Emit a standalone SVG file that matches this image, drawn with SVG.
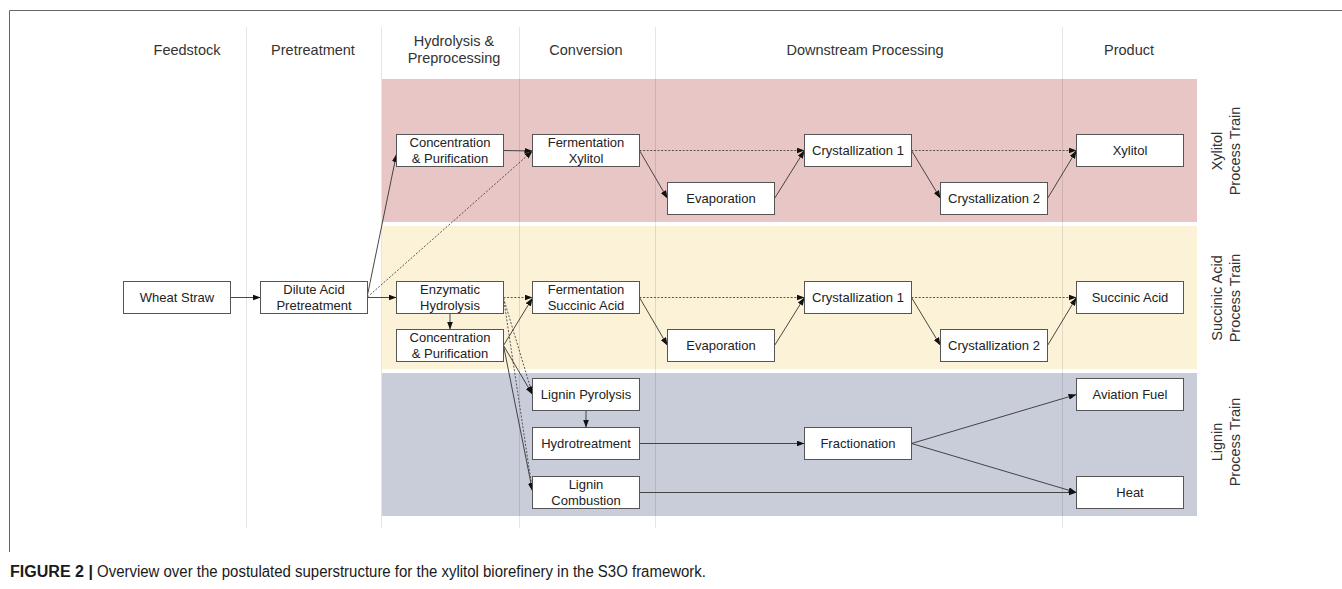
<svg xmlns="http://www.w3.org/2000/svg" width="1342" height="589" viewBox="0 0 1342 589">
  <defs>
    <marker id="arr" viewBox="0 0 8 6" refX="8" refY="3" markerWidth="8" markerHeight="6" markerUnits="userSpaceOnUse" orient="auto">
      <path d="M0,0 L8,3 L0,6 z" fill="#111"/>
    </marker>
    <style>
      .hdr { font-family: "Liberation Sans", Arial, sans-serif; font-size: 14.5px; fill: #333; text-anchor: middle; }
      .side { font-family: "Liberation Sans", Arial, sans-serif; font-size: 14.5px; fill: #333; text-anchor: middle; }
      .box { fill: #fff; stroke: #555; stroke-width: 1; }
      .lbl { font-family: "Liberation Sans", Arial, sans-serif; font-size: 13px; fill: #222; text-anchor: middle; }
      .sol { fill: none; stroke: #333; stroke-width: 0.9; marker-end: url(#arr); }
      .dot { fill: none; stroke: #444; stroke-width: 0.9; stroke-dasharray: 2 1.6; marker-end: url(#arr); }
      .col { stroke: #000; stroke-opacity: 0.1; stroke-width: 1; }
      .cap { font-family: "Liberation Sans", Arial, sans-serif; font-size: 16px; fill: #1a1a1a; }
    </style>
  </defs>

  <rect width="1342" height="589" fill="#fff"/>

  <!-- outer frame -->
  <path d="M9.5,552 L9.5,10.5 L1342,10.5" fill="none" stroke="#666" stroke-width="1"/>

  <!-- process train bands -->
  <g id="bands">
    <rect x="382" y="79" width="815" height="143" fill="#E8C6C6"/>
    <rect x="382" y="226" width="815" height="143" fill="#FBF2D8"/>
    <rect x="382" y="373" width="815" height="143" fill="#C9CDD9"/>
  </g>

  <!-- column dividers -->
  <g id="columns">
    <line class="col" x1="246.5" y1="27" x2="246.5" y2="528"/>
    <line class="col" x1="381.5" y1="27" x2="381.5" y2="528"/>
    <line class="col" x1="519.5" y1="27" x2="519.5" y2="528"/>
    <line class="col" x1="655.5" y1="27" x2="655.5" y2="528"/>
    <line class="col" x1="1062.5" y1="27" x2="1062.5" y2="528"/>
  </g>

  <!-- column headers -->
  <g id="headers">
    <text class="hdr" x="187" y="55">Feedstock</text>
    <text class="hdr" x="313" y="55">Pretreatment</text>
    <text class="hdr" x="454" y="46">Hydrolysis &amp;</text>
    <text class="hdr" x="454" y="63">Preprocessing</text>
    <text class="hdr" x="586" y="55">Conversion</text>
    <text class="hdr" x="865" y="55">Downstream Processing</text>
    <text class="hdr" x="1129" y="55">Product</text>
  </g>

  <!-- train labels -->
  <g id="train-labels">
    <text class="side" transform="translate(1222,151) rotate(-90)">Xylitol</text>
    <text class="side" transform="translate(1240,151) rotate(-90)">Process Train</text>
    <text class="side" transform="translate(1222,298) rotate(-90)">Succinic Acid</text>
    <text class="side" transform="translate(1240,298) rotate(-90)">Process Train</text>
    <text class="side" transform="translate(1222,442) rotate(-90)">Lignin</text>
    <text class="side" transform="translate(1240,442) rotate(-90)">Process Train</text>
  </g>

  <!-- connectors -->
  <g id="connectors">
    <path class="sol" d="M230.5,297.5 L260.5,297.5"/>
    <path class="sol" d="M367.5,297.5 L396.5,297.5"/>
    <path class="sol" d="M367.5,295 L396.5,154"/>
    <path class="dot" d="M367.5,297 L532.5,151"/>
    <path class="sol" d="M503.5,150.5 L532.5,151"/>
    <!-- xylitol train -->
    <path class="dot" d="M639.5,150.5 L804.5,150.5"/>
    <path class="sol" d="M639.5,150.5 L667.5,198.5"/>
    <path class="sol" d="M774.5,198.5 L804.5,150.5"/>
    <path class="dot" d="M911.5,150.5 L1076.5,150.5"/>
    <path class="sol" d="M911.5,150.5 L940.5,198.5"/>
    <path class="sol" d="M1047.5,198.5 L1076.5,150.5"/>
    <!-- succinic acid train -->
    <path class="sol" d="M450,313.5 L450,329.5"/>
    <path class="dot" d="M503.5,297.5 L532.5,297.5"/>
    <path class="sol" d="M503.5,345.5 L532.5,298"/>
    <path class="dot" d="M639.5,297.5 L804.5,297.5"/>
    <path class="sol" d="M639.5,297.5 L667.5,345.5"/>
    <path class="sol" d="M774.5,345.5 L804.5,297.5"/>
    <path class="dot" d="M911.5,297.5 L1076.5,297.5"/>
    <path class="sol" d="M911.5,297.5 L940.5,345.5"/>
    <path class="sol" d="M1047.5,345.5 L1076.5,297.5"/>
    <!-- lignin train -->
    <path class="dot" d="M503.5,298 L532.5,394.5"/>
    <path class="dot" d="M503.5,298 L532.5,491"/>
    <path class="sol" d="M503.5,345.5 L532.5,394.5"/>
    <path class="sol" d="M503.5,345.5 L532.5,491"/>
    <path class="sol" d="M586,410.5 L586,427.5"/>
    <path class="sol" d="M639.5,443.5 L804.5,443.5"/>
    <path class="sol" d="M911.5,443.5 L1076.5,394.5"/>
    <path class="sol" d="M911.5,443.5 L1076.5,492.5"/>
    <path class="sol" d="M639.5,492.5 L1076.5,492.5"/>
  </g>

  <!-- nodes -->
  <g id="wheat-straw"><rect class="box" x="123.5" y="281.5" width="107" height="32"/><text class="lbl" x="177" y="302">Wheat Straw</text></g>
  <g id="dilute-acid"><rect class="box" x="260.5" y="281.5" width="107" height="32"/><text class="lbl" x="314" y="294">Dilute Acid</text><text class="lbl" x="314" y="310">Pretreatment</text></g>

  <g id="conc-purif-xylitol"><rect class="box" x="396.5" y="134.5" width="107" height="32"/><text class="lbl" x="450" y="147">Concentration</text><text class="lbl" x="450" y="163">&amp; Purification</text></g>
  <g id="fermentation-xylitol"><rect class="box" x="532.5" y="134.5" width="107" height="32"/><text class="lbl" x="586" y="147">Fermentation</text><text class="lbl" x="586" y="163">Xylitol</text></g>
  <g id="evaporation-xylitol"><rect class="box" x="667.5" y="182.5" width="107" height="32"/><text class="lbl" x="721" y="203">Evaporation</text></g>
  <g id="crystallization1-xylitol"><rect class="box" x="804.5" y="134.5" width="107" height="32"/><text class="lbl" x="858" y="155">Crystallization 1</text></g>
  <g id="crystallization2-xylitol"><rect class="box" x="940.5" y="182.5" width="107" height="32"/><text class="lbl" x="994" y="203">Crystallization 2</text></g>
  <g id="xylitol"><rect class="box" x="1076.5" y="134.5" width="107" height="32"/><text class="lbl" x="1130" y="155">Xylitol</text></g>

  <g id="enzymatic-hydrolysis"><rect class="box" x="396.5" y="281.5" width="107" height="32"/><text class="lbl" x="450" y="294">Enzymatic</text><text class="lbl" x="450" y="310">Hydrolysis</text></g>
  <g id="conc-purif-succinic"><rect class="box" x="396.5" y="329.5" width="107" height="32"/><text class="lbl" x="450" y="342">Concentration</text><text class="lbl" x="450" y="358">&amp; Purification</text></g>
  <g id="fermentation-succinic"><rect class="box" x="532.5" y="281.5" width="107" height="32"/><text class="lbl" x="586" y="294">Fermentation</text><text class="lbl" x="586" y="310">Succinic Acid</text></g>
  <g id="evaporation-succinic"><rect class="box" x="667.5" y="329.5" width="107" height="32"/><text class="lbl" x="721" y="350">Evaporation</text></g>
  <g id="crystallization1-succinic"><rect class="box" x="804.5" y="281.5" width="107" height="32"/><text class="lbl" x="858" y="302">Crystallization 1</text></g>
  <g id="crystallization2-succinic"><rect class="box" x="940.5" y="329.5" width="107" height="32"/><text class="lbl" x="994" y="350">Crystallization 2</text></g>
  <g id="succinic-acid"><rect class="box" x="1076.5" y="281.5" width="107" height="32"/><text class="lbl" x="1130" y="302">Succinic Acid</text></g>

  <g id="lignin-pyrolysis"><rect class="box" x="532.5" y="378.5" width="107" height="32"/><text class="lbl" x="586" y="399">Lignin Pyrolysis</text></g>
  <g id="hydrotreatment"><rect class="box" x="532.5" y="427.5" width="107" height="32"/><text class="lbl" x="586" y="448">Hydrotreatment</text></g>
  <g id="lignin-combustion"><rect class="box" x="532.5" y="476.5" width="107" height="32"/><text class="lbl" x="586" y="489">Lignin</text><text class="lbl" x="586" y="505">Combustion</text></g>
  <g id="fractionation"><rect class="box" x="804.5" y="427.5" width="107" height="32"/><text class="lbl" x="858" y="448">Fractionation</text></g>
  <g id="aviation-fuel"><rect class="box" x="1076.5" y="378.5" width="107" height="32"/><text class="lbl" x="1130" y="399">Aviation Fuel</text></g>
  <g id="heat"><rect class="box" x="1076.5" y="476.5" width="107" height="32"/><text class="lbl" x="1130" y="497">Heat</text></g>

  <!-- caption -->
  <text class="cap" x="10" y="577" font-weight="bold" textLength="83" lengthAdjust="spacingAndGlyphs">FIGURE 2 |</text>
  <text class="cap" x="97" y="577" textLength="609" lengthAdjust="spacingAndGlyphs">Overview over the postulated superstructure for the xylitol biorefinery in the S3O framework.</text>
</svg>
